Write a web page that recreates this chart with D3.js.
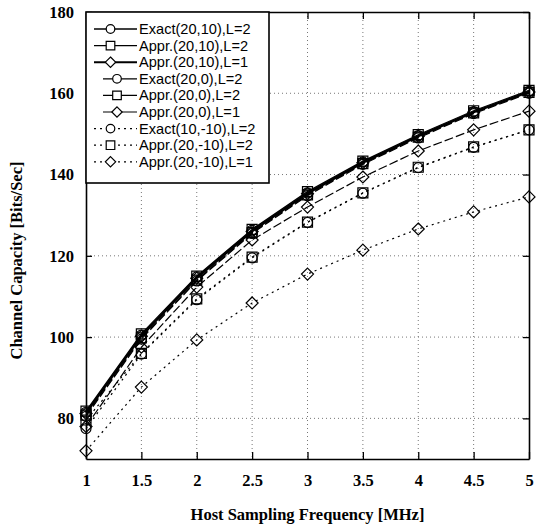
<!DOCTYPE html>
<html><head><meta charset="utf-8">
<script src="https://cdn.jsdelivr.net/npm/d3@7"></script>
<style>body{margin:0;background:#fff;}</style>
</head><body><svg id="c" width="546" height="529"></svg>
<script>
const xValues = [1, 1.5, 2, 2.5, 3, 3.5, 4, 4.5, 5];
const xTicks = [1, 1.5, 2, 2.5, 3, 3.5, 4, 4.5, 5];
const yTicks = [80, 100, 120, 140, 160, 180];
const seriesNames = ["Exact(20,10),L=2","Appr.(20,10),L=2","Appr.(20,10),L=1","Exact(20,0),L=2","Appr.(20,0),L=2","Appr.(20,0),L=1","Exact(10,-10),L=2","Appr.(20,-10),L=2","Appr.(20,-10),L=1"];
const exact20_10_L2 = [81.5, 100.5, 114.8, 126.3, 135.5, 143.1, 149.6, 155.5, 160.5];
const appr20_10_L2  = [81.8, 100.8, 115.0, 126.5, 135.8, 143.3, 149.8, 155.7, 160.7];
const appr20_10_L1  = [81.2, 100.2, 114.5, 126.0, 135.3, 142.9, 149.4, 155.3, 160.3];
const exact20_0_L2  = [80.5, 99.5, 113.8, 125.5, 134.8, 142.5, 149.0, 155.0, 160.0];
const appr20_0_L2   = [80.8, 99.8, 114.0, 125.7, 135.0, 142.7, 149.2, 155.2, 160.2];
const appr20_0_L1   = [78.0, 97.5, 112.3, 123.9, 132.0, 139.4, 145.8, 151.0, 155.6];
const exact10_m10_L2= [77.5, 95.8, 109.2, 119.5, 128.2, 135.4, 141.7, 146.7, 151.0];
const appr20_m10_L2 = [79.6, 96.0, 109.4, 119.7, 128.3, 135.5, 141.8, 146.8, 151.0];
const appr20_m10_L1 = [72.0, 87.7, 99.3, 108.4, 115.5, 121.4, 126.6, 130.8, 134.5];
const seriesValues = [exact20_10_L2, appr20_10_L2, appr20_10_L1, exact20_0_L2, appr20_0_L2, appr20_0_L1, exact10_m10_L2, appr20_m10_L2, appr20_m10_L1];
const markers = ["circle","square","diamond","circle","square","diamond","circle","square","diamond"];
const dashes = [null,null,null,"9,3","9,3","9,3","2,4","2,4","2,4"];
const widths = [1.3,1.3,2,1.2,1.2,1.2,1.2,1.2,1.2];

const svg = d3.select("#c");
const L = 86, R = 529, T = 12, B = 459;
const x = d3.scaleLinear().domain([1,5]).range([L,R]);
const y = d3.scaleLinear().domain([70,180]).range([B,T]);

// grid
const g = svg.append("g");
g.selectAll(".vg").data(xTicks.slice(1,-1)).join("line")
  .attr("x1",d=>x(d)).attr("x2",d=>x(d)).attr("y1",T).attr("y2",B)
  .attr("stroke","#777").attr("stroke-width",1).attr("stroke-dasharray","1,3");
g.selectAll(".hg").data(yTicks.slice(0,-1)).join("line")
  .attr("x1",L).attr("x2",R).attr("y1",d=>y(d)).attr("y2",d=>y(d))
  .attr("stroke","#777").attr("stroke-width",1).attr("stroke-dasharray","1,3");

// axes (ticks inward)
const fontTick = "'Liberation Serif', 'Times New Roman', serif";
const ax = svg.append("g").attr("transform",`translate(0,${B})`)
  .call(d3.axisBottom(x).tickValues(xTicks).tickFormat(d3.format("")).tickSizeInner(-7).tickSizeOuter(0).tickPadding(15));
const axTop = svg.append("g").attr("transform",`translate(0,${T})`)
  .call(d3.axisTop(x).tickValues(xTicks).tickFormat("").tickSizeInner(-7).tickSizeOuter(0));
const ay = svg.append("g").attr("transform",`translate(${L},0)`)
  .call(d3.axisLeft(y).tickValues(yTicks).tickSizeInner(-6).tickSizeOuter(0).tickPadding(12));
const ayR = svg.append("g").attr("transform",`translate(${R},0)`)
  .call(d3.axisRight(y).tickValues(yTicks).tickFormat("").tickSizeInner(-6).tickSizeOuter(0));
[ax,axTop,ay,ayR].forEach(a=>{
  a.selectAll("path").attr("stroke","#000").attr("stroke-width",1.6);
  a.selectAll("line").attr("stroke","#000").attr("stroke-width",1.3);
  a.selectAll("text").attr("font-family",fontTick).attr("font-weight","bold").attr("font-size",16.5).attr("fill","#000");
});

// lines
const line = d3.line().x((d,i)=>x(xValues[i])).y(d=>y(d));
function markerPath(type, size){
  const s = size;
  if(type==="circle") return d3.symbol(d3.symbolCircle, Math.PI*s*s)();
  if(type==="square") return d3.symbol(d3.symbolSquare, 4*s*s)();
  return `M0,${-s*1.2}L${s*1.2},0L0,${s*1.2}L${-s*1.2},0Z`;
}
const order = [8,6,7,5,3,4,0,1,2];
order.forEach(k=>{
  const vals = seriesValues[k];
  svg.append("path").datum(vals).attr("d",line).attr("fill","none")
    .attr("stroke","#000").attr("stroke-width",widths[k])
    .attr("stroke-dasharray",dashes[k]);
  svg.selectAll(null).data(vals).join("path")
    .attr("transform",(d,i)=>`translate(${x(xValues[i])},${y(d)})`)
    .attr("d",markerPath(markers[k],5))
    .attr("fill","none").attr("stroke","#000").attr("stroke-width",1.2);
});

// legend
const lg = svg.append("g");
lg.append("rect").attr("x",L).attr("y",T).attr("width",183).attr("height",171)
  .attr("fill","#fff").attr("stroke","#000").attr("stroke-width",1.6);
seriesNames.forEach((name,i)=>{
  const yy = T + 17 + i*16.6;
  const x1 = (i>=3 && i<=5) ? 103 : 94, x2 = 137;
  lg.append("line").attr("x1",x1).attr("x2",x2).attr("y1",yy).attr("y2",yy)
    .attr("stroke","#000").attr("stroke-width",widths[i]).attr("stroke-dasharray", i>=6 ? "2,4" : null);
  lg.append("path").attr("transform",`translate(${(x1+x2)/2 - (i>=3&&i<=5?3:5)},${yy})`)
    .attr("d",markerPath(markers[i],4.3)).attr("fill","#fff").attr("stroke","#000").attr("stroke-width",1.2);
  lg.append("text").attr("x",139).attr("y",yy+5).text(name)
    .attr("font-family","'Liberation Sans', Arial, sans-serif").attr("font-size",14.6).attr("fill","#000");
});

// axis titles
svg.append("text").attr("x",(L+R)/2).attr("y",520).attr("text-anchor","middle")
  .attr("font-family",fontTick).attr("font-weight","bold").attr("font-size",16.5)
  .text("Host Sampling Frequency [MHz]");
svg.append("text").attr("transform",`translate(22,${(T+B)/2+25}) rotate(-90)`).attr("text-anchor","middle")
  .attr("font-family",fontTick).attr("font-weight","bold").attr("font-size",16.5)
  .text("Channel Capacity [Bits/Sec]");
</script></body></html>
